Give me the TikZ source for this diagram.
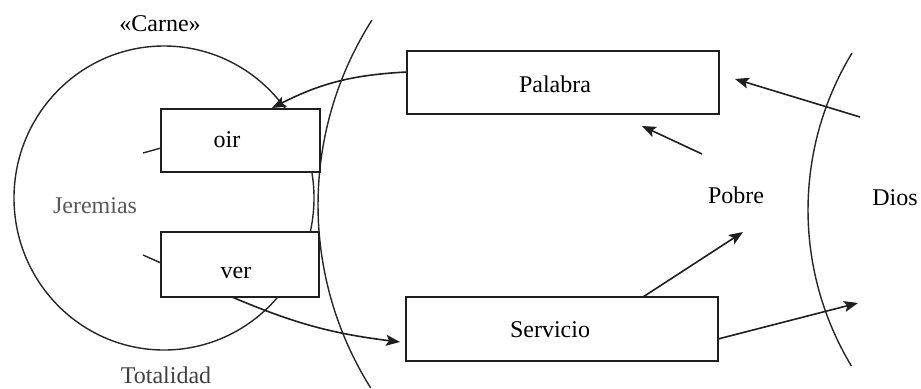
\documentclass[tikz,border=0pt]{standalone}
\usepackage{fontspec}
\setmainfont{Liberation Serif}
\usetikzlibrary{arrows.meta,calc}
\begin{document}
\begin{tikzpicture}[x=0.5pt,y=0.5pt,
  ink/.style={line width=0.8pt, draw=black!88},
  thin ink/.style={line width=0.7pt, draw=black!85},
  box/.style={ink, fill=white, rectangle, inner sep=0pt, outer sep=0pt},
  word/.style={font=\fontsize{12}{14}\selectfont, inner sep=0pt, anchor=base},
  arr/.style={ink, -{Stealth[length=7pt,width=5.5pt,inset=1.5pt]}}]
\useasboundingbox (0,0) rectangle (921,388);

% Jeremias' circle and the two frontier arcs
\draw[thin ink] (164,190) ellipse[x radius=150, y radius=152];
\draw[thin ink] (662,183) ++(147.5:344) arc[start angle=147.5, end angle=212.1, radius=344];
\draw[thin ink] (1110,178) ++(148.7:302) arc[start angle=148.7, end angle=211.1, radius=302];

% boxes
\node[box, minimum width=79.5pt, minimum height=31.5pt] (oir) at (240.5,247.5) {};
\node[box, minimum width=79pt, minimum height=32.5pt] (ver) at (240,123.5) {};
\node[box, minimum width=156pt, minimum height=31.5pt] (palabra) at (563,305.5) {};
\node[box, minimum width=156pt, minimum height=32pt] (servicio) at (562,59) {};

% box texts
\node[word] (oirT) at (227,241) {oir};
\node[word] (verT) at (236,110) {ver};
\node[word] (palabraT) at (555,296) {Palabra};
\node[word] (servicioT) at (550,51) {Servicio};

% free labels
\node[word] (carne) at (160,357) {«Carne»};
\node[word, text=black!65] (jeremias) at (95,175) {Jeremias};
\node[word, text=black!75] (totalidad) at (166,5) {Totalidad};
\node[word] (pobre) at (736,185) {Pobre};
\node[word] (dios) at (895,183) {Dios};

% short ticks on the left of the sense boxes
\draw[thin ink] ($(oir.west)+(0,-7.5)$) -- ++(-18,-5);
\draw[thin ink] ($(ver.west)+(0,1.5)$) -- ++(-18,8);

% free ends of the straight arrows
\coordinate (p1) at (702,234);
\coordinate (d1) at (860,271);
\coordinate (p2) at (743,156);
\coordinate (d2) at (858,85);

% connectors
\draw[arr] ($(palabra.west)+(0,10.5)$) to[bend right=12] ($(oir.north)+(31.5,1)$);
\draw[arr] ($(ver.south)+(-8,0)$) to[bend right=8] ($(servicio.west)+(-6,-13)$);
\draw[arr] (p1) -- ($(palabra.south)+(79,-12)$);
\draw[arr] (d1) -- ($(palabra.east)+(16,3.5)$);
\draw[arr] ($(servicio.north)+(81,0)$) -- (p2);
\draw[arr] ($(servicio.east)+(0,-10)$) -- (d2);
\end{tikzpicture}
\end{document}
